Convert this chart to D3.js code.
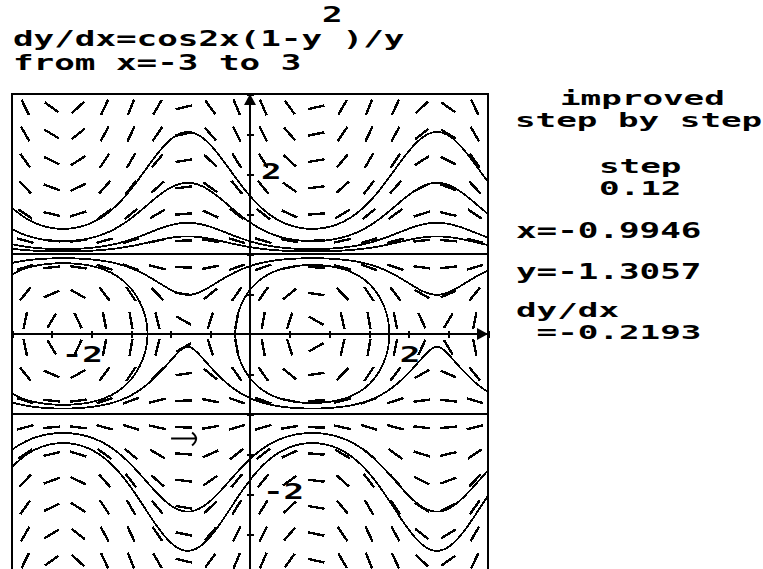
<!DOCTYPE html>
<html>
<head>
<meta charset="utf-8">
<script src="https://cdn.jsdelivr.net/npm/d3@7"></script>
<style>
html, body { margin: 0; padding: 0; background: #fff; overflow: hidden; }
svg text { font-family: "DejaVu Sans Mono", "Liberation Mono", monospace; font-weight: bold; fill: #000; }
</style>
</head>
<body>
<svg id="chart" width="763" height="569"></svg>
<script>
// ---- window of the slope field ----
const xDomain = [-3, 3];
const yDomain = [-3, 3];

// centres of the slope marks (one every 1/3 unit)
const gridX = [-2.8333, -2.5, -2.1667, -1.8333, -1.5, -1.1667, -0.8333, -0.5, -0.1667,
               0.1667, 0.5, 0.8333, 1.1667, 1.5, 1.8333, 2.1667, 2.5, 2.8333];
const gridY = [2.8333, 2.5, 2.1667, 1.8333, 1.5, 1.1667, 0.8333, 0.5, 0.1667,
               -0.1667, -0.5, -0.8333, -1.1667, -1.5, -1.8333, -2.1667, -2.5, -2.8333];

// axis ticks every half unit, labelled at ±2
const tickValues = [-3, -2.5, -2, -1.5, -1, -0.5, 0.5, 1, 1.5, 2, 2.5, 3];
const xTickLabels = [-2, 2];
const yTickLabels = [2, -2];

// starting points of the traced solution curves (x, y)
const curveStartX = [-0.785, -0.785, -0.785, -0.785, 0, 0, -0.785, -0.785, -0.785, -0.785, 0.785, -2.356];
const curveStartY = [2.525, 1.89, 1.39, 1.22, 1, -1, -2.22, -2.71, 0.49, -0.16, 0.8625, 0.885];

// current point of the step-by-step solver
const cursorX = -0.9946;
const cursorY = -1.3057;

// text blocks
const titleLine1 = "dy/dx=cos2x(1-y )/y";
const titleSup = "2";
const titleLine2 = "from x=-3 to 3";
const methodLines = ["improved", "step by step"];
const stepLines = ["step", "0.12"];
const readoutX = "x=-0.9946";
const readoutY = "y=-1.3057";
const readoutSlope = ["dy/dx", " =-0.2193"];

// dy/dx = cos2x (1 - y^2) / y
const slope = (x, y) => Math.cos(2 * x) * (1 - y * y) / y;

// ---- layout ----
const svg = d3.select("#chart");
const plot = { left: 12, right: 488, top: 94, bottom: 574 };
const x = d3.scaleLinear().domain(xDomain).range([plot.left, plot.right]);
const y = d3.scaleLinear().domain(yDomain).range([plot.bottom, plot.top]);
const sx = x(1) - x(0);
const sy = y(0) - y(1);
const ADV = 20.6;      // character cell width of the screen font
const FONT = 22;
const FONT_STACK = 20; // tightly stacked two-line blocks

svg.append("defs").append("clipPath").attr("id", "plotClip")
  .append("rect").attr("x", plot.left).attr("y", plot.top)
  .attr("width", plot.right - plot.left).attr("height", plot.bottom - plot.top);

const field = svg.append("g").attr("clip-path", "url(#plotClip)");

// ---- slope marks ----
const markLen = 17;
const marks = [];
gridX.forEach(gx => gridY.forEach(gy => {
  const m = slope(gx, gy) * sy / sx;
  const a = Math.atan(m);
  marks.push({ gx, gy, dx: Math.cos(a) * markLen / 2, dy: Math.sin(a) * markLen / 2 });
}));
field.append("g").attr("shape-rendering", "crispEdges")
  .selectAll("line").data(marks).join("line")
  .attr("x1", d => x(d.gx) - d.dx).attr("y1", d => y(d.gy) + d.dy)
  .attr("x2", d => x(d.gx) + d.dx).attr("y2", d => y(d.gy) - d.dy)
  .attr("stroke", "#000").attr("stroke-width", 2.4);

// ---- solution curves: follow the direction field (x', y') = (y, cos2x(1-y^2)) ----
function dir(px, py) {
  const a = py * sx;
  const b = Math.cos(2 * px) * (1 - py * py) * sy;
  const n = Math.hypot(a, b) || 1;
  return [a / n / sx, b / n / sy];
}
function follow(x0, y0, sign) {
  const pts = [[x0, y0]];
  let cx = x0, cy = y0;
  const h = 0.8 * sign;
  for (let i = 0; i < 5000; i++) {
    const k1 = dir(cx, cy);
    const k2 = dir(cx + h / 2 * k1[0], cy + h / 2 * k1[1]);
    const k3 = dir(cx + h / 2 * k2[0], cy + h / 2 * k2[1]);
    const k4 = dir(cx + h * k3[0], cy + h * k3[1]);
    cx += h / 6 * (k1[0] + 2 * k2[0] + 2 * k3[0] + k4[0]);
    cy += h / 6 * (k1[1] + 2 * k2[1] + 2 * k3[1] + k4[1]);
    pts.push([cx, cy]);
    if (cx < -3.1 || cx > 3.1 || cy < -3.4 || cy > 3.2) break;
    if (i > 40 && Math.hypot((cx - x0) * sx, (cy - y0) * sy) < 1.2) { pts.push([x0, y0]); break; }
  }
  return pts;
}
const curves = curveStartX.map((sx0, i) => {
  const sy0 = curveStartY[i];
  const back = follow(sx0, sy0, -1).reverse();
  const fwd = follow(sx0, sy0, 1);
  return back.concat(fwd.slice(1));
});
const line = d3.line().x(d => x(d[0])).y(d => y(d[1]));
field.append("g").attr("shape-rendering", "crispEdges")
  .selectAll("path").data(curves).join("path")
  .attr("d", line).attr("fill", "none").attr("stroke", "#000").attr("stroke-width", 1.8);

// ---- axes ----
const axes = svg.append("g").attr("shape-rendering", "crispEdges");
axes.append("line").attr("x1", plot.left).attr("x2", plot.right)
  .attr("y1", y(0)).attr("y2", y(0)).attr("stroke", "#000").attr("stroke-width", 2);
axes.append("line").attr("x1", x(0)).attr("x2", x(0))
  .attr("y1", plot.top).attr("y2", plot.bottom).attr("stroke", "#000").attr("stroke-width", 2);

const tick = 3.5;
const xAxis = axes.append("g").attr("transform", `translate(0,${y(0) - tick})`)
  .call(d3.axisBottom(x).tickValues(tickValues).tickSize(tick * 2).tickSizeOuter(0).tickFormat(""));
const yAxis = axes.append("g").attr("transform", `translate(${x(0) + tick},0)`)
  .call(d3.axisLeft(y).tickValues(tickValues).tickSize(tick * 2).tickSizeOuter(0).tickFormat(""));
[xAxis, yAxis].forEach(g => {
  g.select(".domain").remove();
  g.selectAll(".tick line").attr("stroke", "#000").attr("stroke-width", 2);
});

// arrow heads on the axes
svg.append("path")
  .attr("d", `M${plot.right},${y(0)} L${plot.right - 11},${y(0) - 6} L${plot.right - 11},${y(0) + 6} Z`)
  .attr("fill", "#000");
svg.append("path")
  .attr("d", `M${x(0)},${plot.top} L${x(0) - 6},${plot.top + 11} L${x(0) + 6},${plot.top + 11} Z`)
  .attr("fill", "#000");

// frame
svg.append("rect").attr("x", plot.left).attr("y", plot.top)
  .attr("width", plot.right - plot.left).attr("height", plot.bottom - plot.top)
  .attr("fill", "none").attr("stroke", "#000").attr("stroke-width", 2.4)
  .attr("shape-rendering", "crispEdges");

// text in the screen font; a block of lines shares one text element
function screenText(lines, px, baselines, size) {
  const t = svg.append("text").attr("font-size", size || FONT).attr("xml:space", "preserve")
    .style("white-space", "pre");
  lines.forEach((str, i) => {
    t.append("tspan").attr("x", px[i]).attr("y", baselines[i])
      .attr("textLength", str.length * ADV).attr("lengthAdjust", "spacingAndGlyphs")
      .text(str);
  });
  return t;
}

// tick labels
xTickLabels.forEach(v => {
  const s = String(v);
  screenText([s], [x(v) - (s.length - 1) * ADV - 9], [y(0) + 28]);
});
yTickLabels.forEach(v => {
  const s = String(v);
  screenText([s], [x(0) + (v < 0 ? 13 : 11)], [y(v) + 5]);
});

// cursor of the step-by-step solver with its heading
const cx0 = x(cursorX), cy0 = y(cursorY);
svg.append("path")
  .attr("d", `M${cx0},${cy0} H${cx0 + 26} M${cx0 + 21},${cy0 - 6} Q${cx0 + 29},${cy0} ${cx0 + 21},${cy0 + 7}`)
  .attr("fill", "none").attr("stroke", "#000").attr("stroke-width", 2);

// ---- title ----
screenText([titleSup], [13 + 15 * ADV], [22]);
screenText([titleLine1], [13], [46]);
screenText([titleLine2], [13], [70]);

// ---- side panel ----
screenText([methodLines[0]], [560], [105], FONT_STACK);
screenText([methodLines[1]], [515], [127], FONT_STACK);
screenText([stepLines[0]], [599], [173], FONT_STACK);
screenText([stepLines[1]], [599], [195], FONT_STACK);
screenText([readoutX], [516], [238]);
screenText([readoutY], [516], [279]);
screenText([readoutSlope[0]], [516], [317], FONT_STACK);
screenText([readoutSlope[1]], [516], [339], FONT_STACK);
</script>
</body>
</html>
